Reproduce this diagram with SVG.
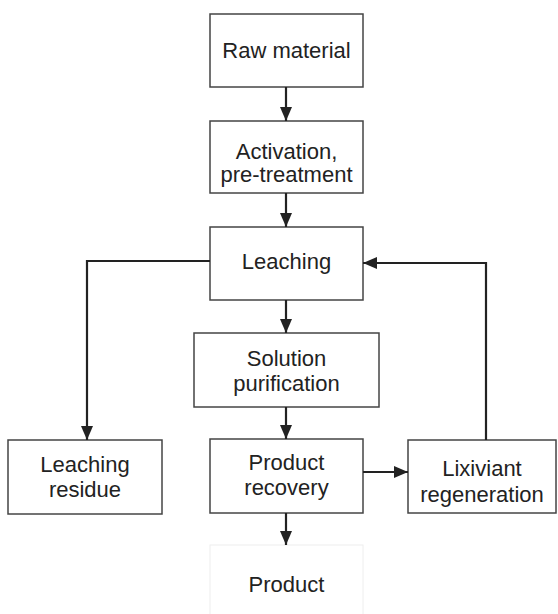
<svg xmlns="http://www.w3.org/2000/svg" width="558" height="614" viewBox="0 0 558 614">
<style>
.box{fill:#fff;stroke:#444;stroke-width:1.5}
.faint{fill:#fff;stroke:#eeeeee;stroke-width:1}
.t{font-family:"Liberation Sans",Arial,sans-serif;font-size:22px;fill:#222;text-anchor:middle}
.c{fill:none;stroke:#222;stroke-width:2.2}
</style>
<defs>
<marker id="ah" markerUnits="userSpaceOnUse" markerWidth="16" markerHeight="16" viewBox="0 0 16 16" refX="14" refY="8" orient="auto">
<path d="M0,2 L14,8 L0,14 Z" fill="#222"/>
</marker>
</defs>
<rect width="558" height="614" fill="#fff"/>
<g id="raw"><rect class="box" x="210" y="14" width="153" height="73"/><text class="t" x="286.5" y="58">Raw material</text></g>
<g id="activation"><rect class="box" x="210" y="121" width="153" height="72"/><text class="t" x="286.5" y="159">Activation,</text><text class="t" x="286.5" y="182">pre-treatment</text></g>
<g id="leaching"><rect class="box" x="210" y="227" width="153" height="73"/><text class="t" x="286.5" y="269">Leaching</text></g>
<g id="purification"><rect class="box" x="194" y="333" width="185" height="74"/><text class="t" x="286.5" y="366">Solution</text><text class="t" x="286.5" y="391">purification</text></g>
<g id="residue"><rect class="box" x="8" y="440" width="154" height="74"/><text class="t" x="85" y="472">Leaching</text><text class="t" x="85" y="497">residue</text></g>
<g id="recovery"><rect class="box" x="210" y="439" width="153" height="74"/><text class="t" x="286.5" y="470">Product</text><text class="t" x="286.5" y="495">recovery</text></g>
<g id="lixiviant"><rect class="box" x="408" y="440" width="148" height="73"/><text class="t" x="482" y="476">Lixiviant</text><text class="t" x="482" y="502">regeneration</text></g>
<g id="product"><rect class="faint" x="210" y="545" width="153" height="75"/><text class="t" x="286.5" y="592">Product</text></g>
<g id="connectors">
<line class="c" x1="286" y1="87" x2="286" y2="121" marker-end="url(#ah)"/>
<line class="c" x1="286" y1="193" x2="286" y2="227" marker-end="url(#ah)"/>
<line class="c" x1="286" y1="300" x2="286" y2="333" marker-end="url(#ah)"/>
<line class="c" x1="286" y1="407" x2="286" y2="439" marker-end="url(#ah)"/>
<line class="c" x1="286" y1="513" x2="286" y2="545" marker-end="url(#ah)"/>
<polyline class="c" points="210,261 87,261 87,440" marker-end="url(#ah)"/>
<polyline class="c" points="486,440 486,263 363,263" marker-end="url(#ah)"/>
<line class="c" x1="363" y1="472" x2="408" y2="472" marker-end="url(#ah)"/>
</g>
</svg>
